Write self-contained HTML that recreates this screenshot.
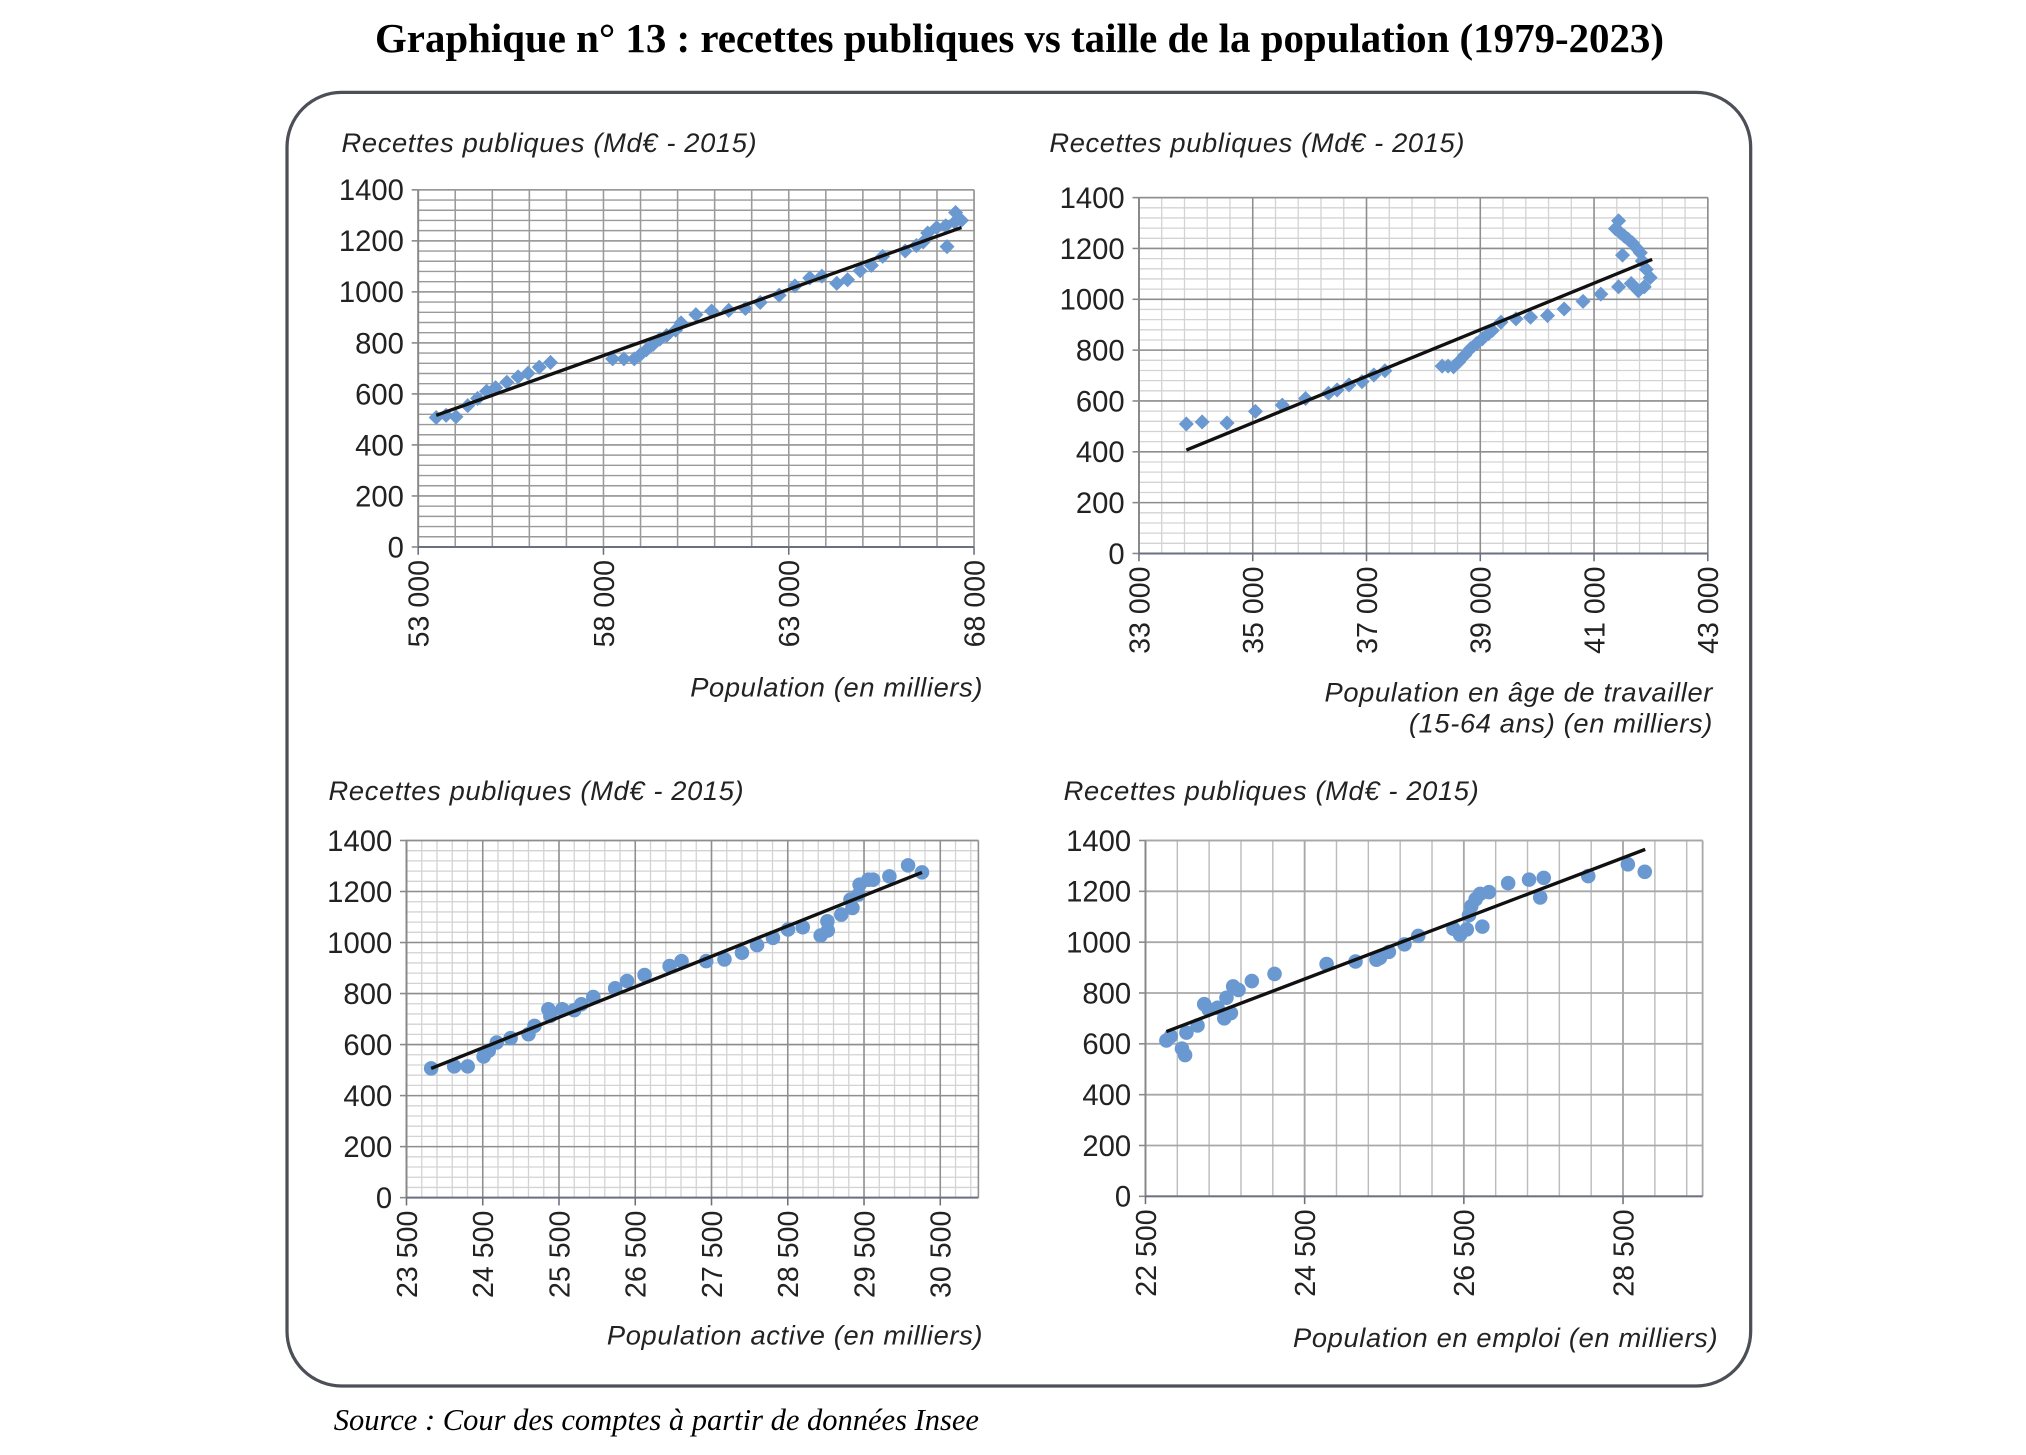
<!DOCTYPE html>
<html><head><meta charset="utf-8"><style>
html,body{margin:0;padding:0;background:#fff;}
svg{display:block;}
</style></head><body>
<svg id="s" width="2026" height="1455" viewBox="0 0 1560 1120" xmlns="http://www.w3.org/2000/svg">
<rect x="0" y="0" width="1560" height="1120" fill="#fff"/>
<text x="785" y="40" text-anchor="middle" font-family="Liberation Serif, serif" font-weight="bold" font-size="31.5">Graphique n° 13 : recettes publiques vs taille de la population (1979-2023)</text>
<rect x="221" y="71" width="1127" height="996" rx="42" ry="42" fill="none" stroke="#4d4f57" stroke-width="2.5"/>
<text x="257" y="1101" font-family="Liberation Serif, serif" font-style="italic" font-size="23.5">Source : Cour des comptes à partir de données Insee</text>
<g font-family="Liberation Sans, sans-serif" font-style="italic" font-size="21" letter-spacing="0.5" fill="#222">
<text x="263" y="117">Recettes publiques (Md€ - 2015)</text>
<text x="808" y="117">Recettes publiques (Md€ - 2015)</text>
<text x="253" y="616">Recettes publiques (Md€ - 2015)</text>
<text x="819" y="616">Recettes publiques (Md€ - 2015)</text>
<text x="757" y="536" text-anchor="end">Population (en milliers)</text>
<text x="1319" y="540" text-anchor="end">Population en âge de travailler</text>
<text x="1319" y="564" text-anchor="end">(15-64 ans) (en milliers)</text>
<text x="757" y="1035" text-anchor="end">Population active (en milliers)</text>
<text x="1323" y="1037" text-anchor="end">Population en emploi (en milliers)</text>
</g>
<g id="charts"></g>
</svg>
<script>
var NS="http://www.w3.org/2000/svg",G=document.getElementById("charts");
function el(n,a,t){var e=document.createElementNS(NS,n);for(var k in a)e.setAttribute(k,a[k]);if(t!==undefined)e.textContent=t;G.appendChild(e);return e;}
function chart(o){
 var X=function(v){return o.px0+(v-o.v0)/(o.v1-o.v0)*(o.px1-o.px0);};
 var Y=function(v){return o.py0-(v/1400)*(o.py0-o.py1);};
 var right=X(o.vmax);
 if(o.hminor){for(var v=0;v<=1400+1e-6;v+=o.hminor){el("line",{x1:o.px0,x2:right,y1:Y(v),y2:Y(v),stroke:o.minc,"stroke-width":o.minw});}}
 if(o.vminor){for(var v=o.v0;v<=o.vmax+1e-6;v+=o.vminor){el("line",{x1:X(v),x2:X(v),y1:o.py1,y2:o.py0,stroke:o.minc,"stroke-width":o.minw});}}
 for(var v=0;v<=1400;v+=200){el("line",{x1:o.px0,x2:right,y1:Y(v),y2:Y(v),stroke:o.majc,"stroke-width":o.majw});}
 for(var v=o.v0;v<=o.vmax+1e-6;v+=o.vmajor){el("line",{x1:X(v),x2:X(v),y1:o.py1,y2:o.py0,stroke:o.majc,"stroke-width":o.majw});}
 el("line",{x1:right,x2:right,y1:o.py1,y2:o.py0,stroke:o.majc,"stroke-width":o.majw});
 el("line",{x1:o.px0,x2:right,y1:o.py1,y2:o.py1,stroke:o.majc,"stroke-width":o.majw});
 el("line",{x1:o.px0,x2:o.px0,y1:o.py1,y2:o.py0,stroke:"#888","stroke-width":1.5});
 el("line",{x1:o.px0,x2:right,y1:o.py0,y2:o.py0,stroke:"#6b7080","stroke-width":1.5});
 for(var v=0;v<=1400;v+=200){var y=Y(v);el("line",{x1:o.px0-5,x2:o.px0,y1:y,y2:y,stroke:"#888","stroke-width":1.2});
  el("text",{x:o.px0-11,y:y+8,"text-anchor":"end","font-family":"Liberation Sans, sans-serif","font-size":22.5,fill:"#222"},String(v));}
 o.xt.forEach(function(v){var x=X(v);el("line",{x1:x,x2:x,y1:o.py0,y2:o.py0+6,stroke:"#6b7080","stroke-width":1.2});
  var s=String(v);s=s.slice(0,s.length-3)+" "+s.slice(-3);
  el("text",{x:0,y:0,transform:"translate("+(x+8)+","+(o.py0+10)+") rotate(-90)","text-anchor":"end","font-family":"Liberation Sans, sans-serif","font-size":22,fill:"#222"},s);});
 var zx=function(z){return o.px0+(z-o.zxa)/(o.zxb-o.zxa)*(X(o.zvb)-o.px0);};
 var zy=function(z){return o.py0-(o.zya-z)/(o.zya-o.zyb)*(o.py0-o.py1);};
 o.pts.forEach(function(p){var x=zx(p[0]),y=zy(p[1]);
  if(o.mk=="d"){var r=5.8;el("polygon",{points:(x)+","+(y-r)+" "+(x+r)+","+y+" "+x+","+(y+r)+" "+(x-r)+","+y,fill:"#6a98d0"});}
  else el("circle",{cx:x,cy:y,r:5.6,fill:"#6a98d0"});});
 el("line",{x1:zx(o.tr[0]),y1:zy(o.tr[1]),x2:zx(o.tr[2]),y2:zy(o.tr[3]),stroke:"#111","stroke-width":2.6});
}
chart({px0:322,px1:750,v0:53000,v1:68000,vmax:68000,py0:421,py1:146,
 hminor:40,vminor:0,vmajor:1000,minc:"#9a9a9a",minw:1.1,majc:"#9a9a9a",majw:1.2,
 xt:[53000,58000,63000,68000],mk:"d",zxa:268,zxb:1503,zvb:68000,zya:1078,zyb:85,
 pts:[[308,718],[330,712],[352,716],[378,685],[400,665],[420,645],[440,635],[465,620],[490,605],[512,595],[537,578],[562,565],[700,555],[725,555],[748,555],[760,545],[775,530],[790,515],[805,500],[820,490],[840,475],[852,455],[885,432],[920,422],[958,420],[995,415],[1028,398],[1070,378],[1105,352],[1138,330],[1165,325],[1198,345],[1222,335],[1250,310],[1275,295],[1300,270],[1350,255],[1375,240],[1390,230],[1400,205],[1420,190],[1440,185],[1443,243],[1460,175],[1462,148],[1475,170]],
 tr:[308,712,1475,190]});
chart({px0:877,px1:1315,v0:33000,v1:43000,vmax:43000,py0:426,py1:152,
 hminor:40,vminor:400,vmajor:2000,minc:"#d3d3d3",minw:1,majc:"#8e8e8e",majw:1.2,
 xt:[33000,35000,37000,39000,41000,43000],mk:"d",zxa:25,zxb:1466,zvb:43000,zya:1125,zyb:48,
 pts:[[145,733],[185,727],[248,730],[320,695],[388,676],[447,656],[505,640],[527,630],[557,615],[590,605],[620,585],[648,572],[793,558],[808,558],[822,560],[835,545],[850,525],[865,505],[880,490],[895,475],[910,460],[920,450],[942,425],[980,415],[1017,410],[1060,405],[1102,385],[1150,362],[1195,340],[1240,318],[1272,308],[1290,330],[1305,318],[1320,290],[1310,265],[1300,240],[1295,215],[1285,200],[1275,185],[1265,175],[1255,165],[1245,155],[1232,142],[1240,118],[1250,222]],
 tr:[145,812,1325,235]});
chart({px0:313,px1:724,v0:23500,v1:30500,vmax:31000,py0:922,py1:647,
 hminor:40,vminor:200,vmajor:1000,minc:"#d3d3d3",minw:1,majc:"#8e8e8e",majw:1.2,
 xt:[23500,24500,25500,26500,27500,28500,29500,30500],mk:"c",zxa:38,zxb:1381,zvb:30500,zya:1122,zyb:47,
 pts:[[100,733],[158,727],[192,727],[232,697],[245,680],[265,655],[300,642],[345,630],[360,605],[395,555],[400,575],[430,555],[460,558],[478,540],[508,518],[563,492],[593,470],[637,452],[700,425],[730,410],[792,410],[838,405],[882,385],[920,362],[960,340],[998,315],[1035,308],[1080,333],[1098,318],[1097,290],[1132,270],[1160,250],[1155,225],[1175,210],[1178,180],[1200,165],[1212,165],[1253,155],[1300,122],[1335,143]],
 tr:[100,733,1335,143]});
chart({px0:882,px1:1311,v0:22500,v1:29500,vmax:29500,py0:921,py1:647,
 hminor:0,vminor:400,vmajor:2000,minc:"#bcbcbc",minw:1.1,majc:"#a8a8a8",majw:1.4,
 xt:[22500,24500,26500,28500],mk:"c",zxa:233,zxb:1485,zvb:29500,zya:1045,zyb:45,
 pts:[[280,607],[290,595],[315,630],[322,648],[325,585],[350,565],[365,505],[375,520],[395,515],[410,545],[415,487],[425,530],[430,455],[442,465],[472,440],[523,420],[640,392],[705,385],[752,380],[760,375],[780,358],[815,337],[846,313],[925,293],[940,310],[955,295],[960,255],[965,230],[975,210],[985,195],[990,287],[1005,190],[1048,165],[1095,155],[1120,205],[1128,150],[1228,145],[1317,112],[1355,133]],
 tr:[280,582,1356,70]});
</script>
</body></html>
